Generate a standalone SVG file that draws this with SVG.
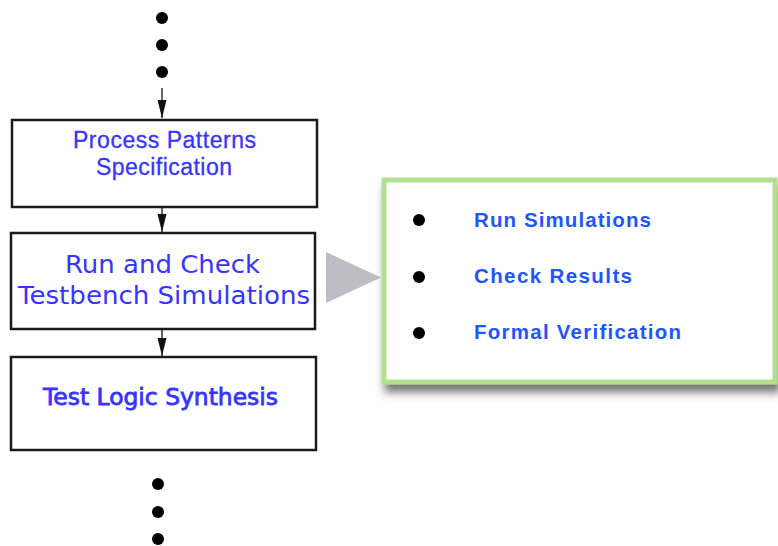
<svg xmlns="http://www.w3.org/2000/svg" width="778" height="546" viewBox="0 0 778 546">
  <defs>
    <marker id="arrow" viewBox="0 0 18 12" refX="18" refY="6" markerWidth="18" markerHeight="12" markerUnits="userSpaceOnUse" orient="auto">
      <path d="M0,1.5 L18,6 L0,10.5 Z" fill="#111"/>
    </marker>
    <filter id="shadow" x="-10%" y="-10%" width="130%" height="140%">
      <feDropShadow dx="3" dy="8" stdDeviation="4" flood-color="#555" flood-opacity="0.8"/>
    </filter>
    <style>
      .box { fill: #fff; stroke: #1a1a1a; stroke-width: 2.5; }
      .dot { fill: #000; }
      .conn { stroke: #111; stroke-width: 1.3; fill: none; marker-end: url(#arrow); }
      .lbl { fill: #3535ff; text-anchor: start; }
      .arial { font-family: "Liberation Sans", Arial, sans-serif; font-size: 23px; stroke: #3535ff; stroke-width: 0.3; }
      .dejavu { font-family: "DejaVu Sans", Verdana, sans-serif; font-size: 24px; }
      .item { font-family: "Liberation Sans", Arial, sans-serif; font-size: 20.5px; font-weight: bold; fill: #1f55ff; }
    </style>
  </defs>

  <rect width="778" height="546" fill="#fff"/>

  <!-- continuation dots above the flow -->
  <g id="dots-top">
    <circle class="dot" cx="162" cy="18" r="6"/>
    <circle class="dot" cx="162" cy="45" r="6"/>
    <circle class="dot" cx="162" cy="72" r="6"/>
  </g>

  <!-- connectors -->
  <g id="connectors">
    <line class="conn" x1="162" y1="88" x2="162" y2="118"/>
    <line class="conn" x1="162" y1="208" x2="162" y2="232"/>
    <line class="conn" x1="162" y1="330" x2="162" y2="356"/>
    <polygon points="326,252 381,277.5 326,303" fill="#bdbdc3"/>
  </g>

  <g id="process-patterns">
    <rect class="box" x="12" y="120" width="305" height="87"/>
    <text class="lbl arial" x="73" y="148" textLength="183" lengthAdjust="spacing">Process Patterns</text>
    <text class="lbl arial" x="96" y="175" textLength="136" lengthAdjust="spacing">Specification</text>
  </g>

  <g id="run-check">
    <rect class="box" x="11" y="233" width="304" height="96"/>
    <text class="lbl dejavu" x="65" y="273" textLength="195" lengthAdjust="spacingAndGlyphs">Run and Check</text>
    <text class="lbl dejavu" x="18" y="304" textLength="292" lengthAdjust="spacingAndGlyphs">Testbench Simulations</text>
  </g>

  <g id="test-logic">
    <rect class="box" x="11" y="357" width="305" height="93"/>
    <text class="lbl" x="43" y="405" font-family="'DejaVu Sans', Verdana, sans-serif" font-size="23" stroke="#3535ff" stroke-width="0.8" textLength="235" lengthAdjust="spacingAndGlyphs">Test Logic Synthesis</text>
  </g>

  <!-- continuation dots below the flow -->
  <g id="dots-bottom">
    <circle class="dot" cx="158" cy="484" r="6"/>
    <circle class="dot" cx="158" cy="512" r="6"/>
    <circle class="dot" cx="158" cy="539" r="6"/>
  </g>

  <g id="detail">
    <rect x="384" y="180" width="391" height="202" fill="#fff" stroke="#b3df8e" stroke-width="5" filter="url(#shadow)"/>
    <circle class="dot" cx="419" cy="220" r="6"/>
    <circle class="dot" cx="419" cy="277" r="6"/>
    <circle class="dot" cx="419" cy="333" r="6"/>
    <text class="item" x="474" y="227" textLength="177" lengthAdjust="spacing">Run Simulations</text>
    <text class="item" x="474" y="283" textLength="158" lengthAdjust="spacing">Check Results</text>
    <text class="item" x="474" y="339" textLength="207" lengthAdjust="spacing">Formal Verification</text>
  </g>
</svg>
